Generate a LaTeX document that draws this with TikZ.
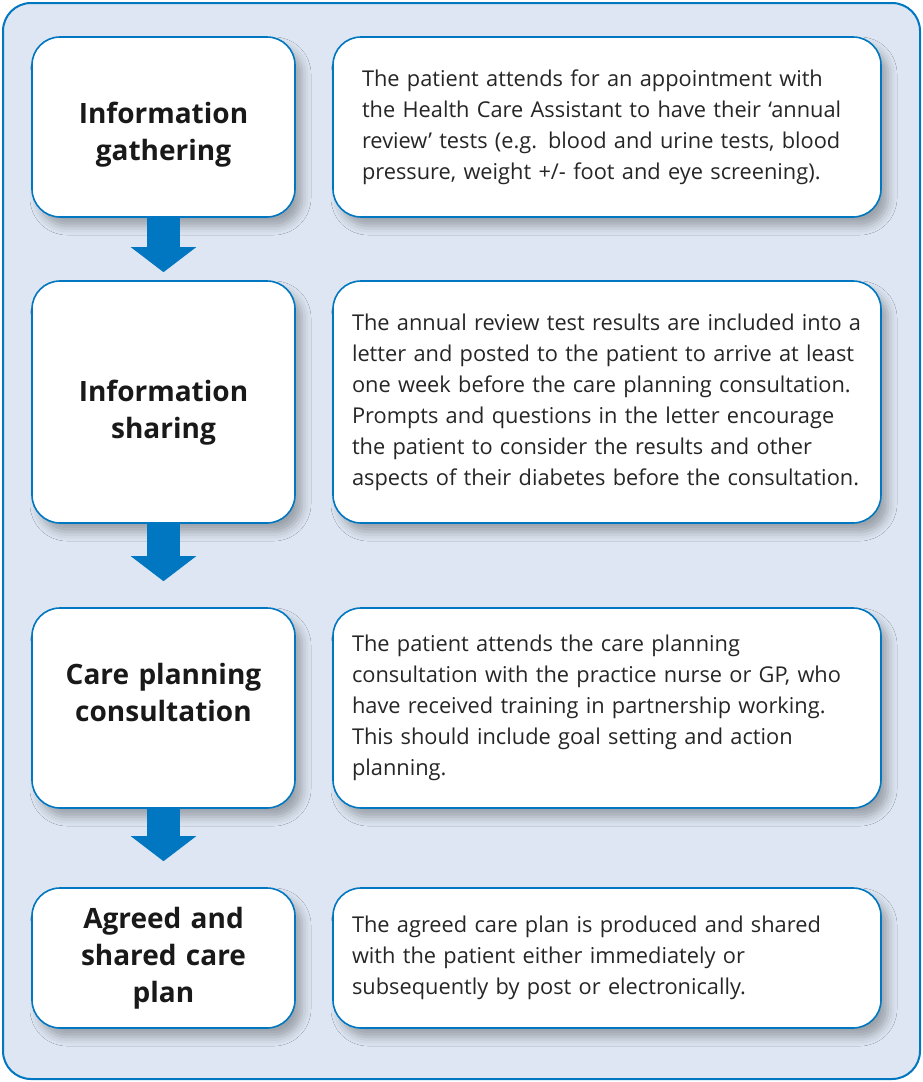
\documentclass[tikz,border=0pt]{standalone}
\usepackage{fontspec}
\setmainfont{Open Sans}
\usepackage{xcolor}
\usepackage{tikz}
\usetikzlibrary{arrows.meta, positioning, shadows.blur}

\definecolor{nhsblue}{HTML}{0077C0}
\definecolor{panelblue}{HTML}{DDE6F2}

\begin{document}
\begin{tikzpicture}[
        x=1pt, y=-1pt,
        stage/.style={rectangle, draw=nhsblue, line width=1.6pt, fill=white, rounded corners=28pt,
            minimum width=263pt, text width=240pt, align=center,
            font=\fontsize{28}{37}\selectfont\bfseries\color{black!90},
            blur shadow={shadow xshift=7pt, shadow yshift=-9pt, shadow blur radius=9pt, shadow opacity=30}},
        detail/.style={rectangle, draw=nhsblue, line width=1.6pt, fill=white, rounded corners=28pt,
            minimum width=548pt, inner xsep=19pt, text width=510pt, align=left,
            font=\fontsize{21.8}{31}\selectfont\color{black!85},
            blur shadow={shadow xshift=7pt, shadow yshift=-9pt, shadow blur radius=9pt, shadow opacity=30}},
        line/.style={draw=nhsblue, line width=33pt, -{Triangle[width=64pt,length=25pt]}}
    ]
        \useasboundingbox (0,0) rectangle (923,1082);
        \draw [nhsblue, line width=2pt, fill=panelblue, rounded corners=28pt] (3,3) rectangle (920,1079);

        \node [stage, minimum height=180pt] (gathering) at (163.5,127) {\rule{0pt}{36pt}Information\\gathering};
        \node [stage, minimum height=242pt] (sharing) at (163.5,402) {\rule{0pt}{43pt}Information\\sharing};
        \node [stage, minimum height=200pt] (consult) at (163.5,708) {Care planning\\consultation\\[-5pt]\mbox{}};
        \node [stage, minimum height=140pt] (plan) at (163.5,958) {Agreed and\\shared care\\plan};

        \node [detail, minimum height=180pt, inner xsep=29pt, text width=490pt] (gathering text) at (607,127)
            {The patient attends for an appointment with\\the Health Care Assistant to have their ‘annual\\review’ tests (e.g. blood and urine tests, blood\\pressure, weight +/- foot and eye screening).};
        \node [detail, minimum height=242pt] (sharing text) at (607,402)
            {The annual review test results are included into a\\letter and posted to the patient to arrive at least\\one week before the care planning consultation.\\Prompts and questions in the letter encourage\\the patient to consider the results and other\\aspects of their diabetes before the consultation.};
        \node [detail, minimum height=200pt] (consult text) at (607,708)
            {The patient attends the care planning\\consultation with the practice nurse or GP, who\\have received training in partnership working.\\This should include goal setting and action\\planning.};
        \node [detail, minimum height=140pt] (plan text) at (607,958)
            {The agreed care plan is produced and shared\\with the patient either immediately or\\subsequently by post or electronically.};

        \path [line, shorten >=8pt] (gathering.south) -- (sharing.north);
        \path [line, shorten >=26pt] (sharing.south) -- (consult.north);
        \path [line, shorten >=26pt] (consult.south) -- (plan.north);
    \end{tikzpicture}
\end{document}
